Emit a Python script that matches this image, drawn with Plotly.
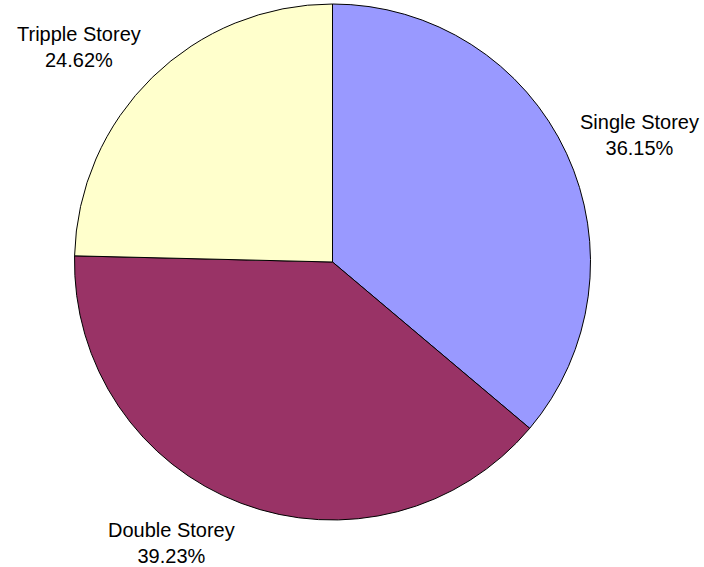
import math
import plotly.graph_objects as go

labels = ["Single Storey", "Double Storey", "Tripple Storey"]
values = [36.15, 39.23, 24.62]
colors = ["#9999FF", "#993366", "#FFFFCC"]

W, H = 704, 567
# pie geometry (pixels)
cx, cy, r = 332.5, 262.0, 258.0

fig = go.Figure(go.Pie(
    labels=labels,
    values=values,
    sort=False,
    direction="clockwise",
    rotation=0,
    marker=dict(colors=colors, line=dict(color="black", width=1)),
    textinfo="none",
    hoverinfo="label+percent",
    showlegend=False,
    domain=dict(x=[(cx - r) / W, (cx + r) / W],
                y=[1 - (cy + r) / H, 1 - (cy - r) / H]),
))

# Outside labels placed next to each slice's mid-angle
total = sum(values)
cum = 0.0
annotations = []
for lab, v in zip(labels, values):
    mid = (cum + v / 2) / total * 2 * math.pi
    cum += v
    s, c = math.sin(mid), math.cos(mid)
    ax = cx + 1.05 * r * s
    ay = cy - 1.05 * r * c
    annotations.append(dict(
        x=ax / W, y=1 - ay / H, xref="paper", yref="paper",
        xanchor="left" if s > 0 else "right", yanchor="middle",
        yshift=25 * 1.2 * c,
        text=f"{lab}<br>{v / total * 100:.2f}%",
        showarrow=False, align="center",
        font=dict(family="Liberation Sans, Arial, sans-serif", size=20, color="black"),
    ))

fig.update_layout(
    width=W, height=H,
    margin=dict(l=0, r=0, t=0, b=0),
    paper_bgcolor="white",
    plot_bgcolor="white",
    annotations=annotations,
)

fig.write_html("out.html",
               config={"displayModeBar": False},
               post_script="document.body.style.margin='0';document.body.style.padding='0';")
